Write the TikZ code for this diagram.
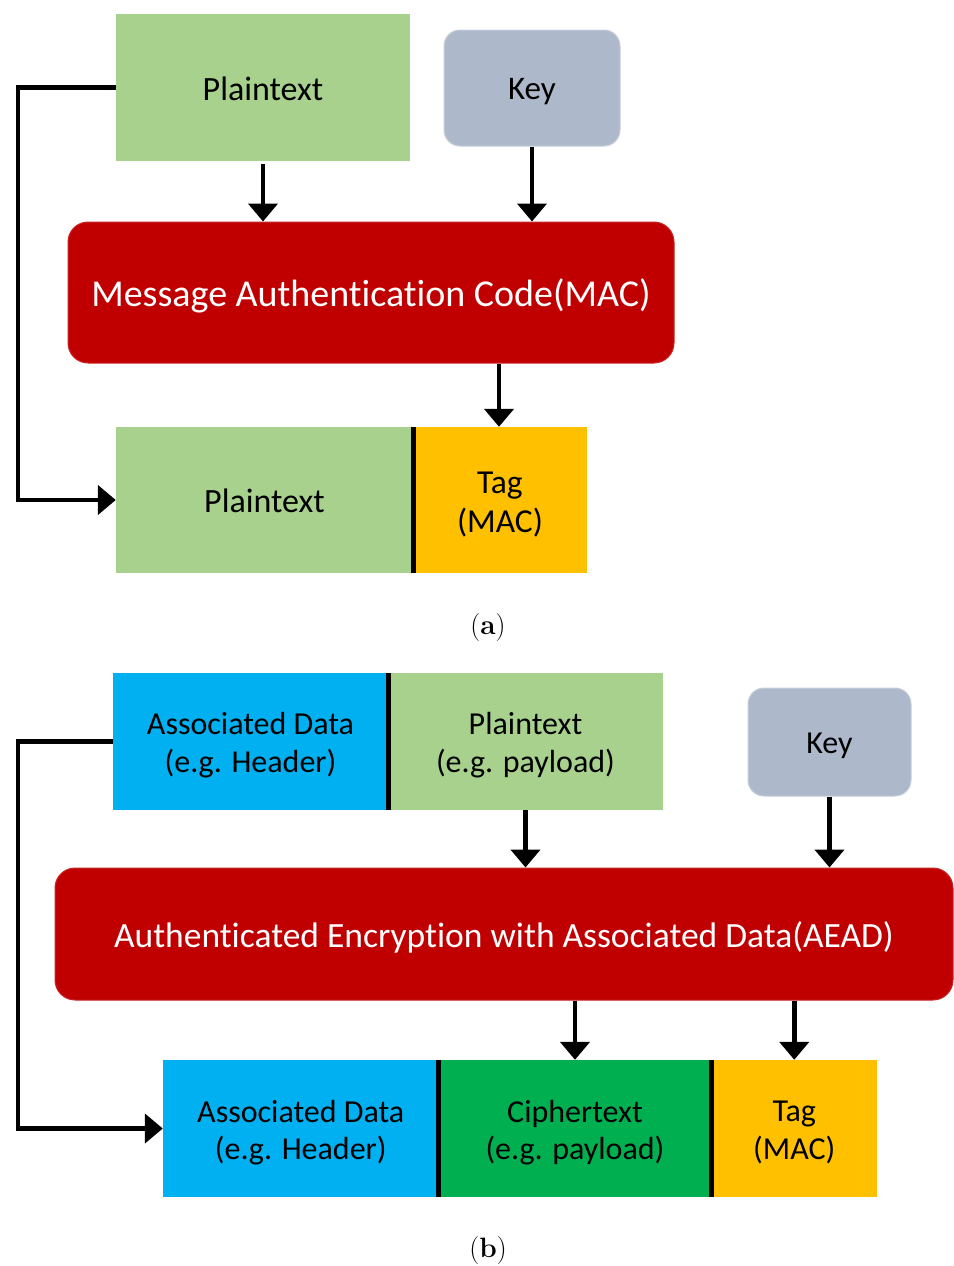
\documentclass[tikz,border=0pt]{standalone}
\usepackage{fontspec}
\setmainfont{Carlito}[Ligatures={NoCommon,NoContextual}]
\newfontfamily\capfont{Latin Modern Roman}
\usetikzlibrary{arrows.meta}

\definecolor{ptgreen}{HTML}{A9D18E}
\definecolor{keygray}{HTML}{ADB9CA}
\definecolor{macred}{HTML}{C00000}
\definecolor{tagyellow}{HTML}{FFC000}
\definecolor{adblue}{HTML}{00B0F0}
\definecolor{ctgreen}{HTML}{00B050}

\tikzset{
  blk/.style={rectangle, inner sep=0pt},
  keybox/.style={blk, fill=keygray, draw=keygray!70!white, line width=1pt, rounded corners=16pt},
  procbox/.style={blk, fill=macred, draw=macred!85!white, line width=1pt, rounded corners=20pt},
  txt/.style={inner sep=0pt, align=center, text=black},
  wtxt/.style={txt, text=white},
  arr/.style={line width=4.6pt, -{Triangle[width=29pt,length=18pt]}},
  loop/.style={line width=4.6pt, -{Triangle[width=29pt,length=18pt]}},
  sep/.style={line width=5pt, black},
  caption/.style={font=\capfont\fontsize{28}{32}\selectfont},
  two/.style={txt, font=\fontsize{32}{37.5}\selectfont},
}

\begin{document}
\begin{tikzpicture}[x=1pt, y=-1pt]
\useasboundingbox (0,0) rectangle (953,1266);

% ---------- (a) MAC ----------
\node[blk, fill=ptgreen, minimum width=294pt, minimum height=147pt] (ptA) at (263,87.5) {};
\node[txt, font=\fontsize{34}{40}\selectfont] (ptAt) at ([yshift=-1.5pt]ptA.center) {Plaintext};
\node[keybox, minimum width=176pt, minimum height=116pt] (keyA) at (532,88) {};
\node[txt, font=\fontsize{33}{38}\selectfont] (keyAt) at ([yshift=-4pt]keyA.center) {Key};
\node[procbox, minimum width=606pt, minimum height=141pt] (mac) at (371,292.5) {};
\node[wtxt, font=\fontsize{38}{44}\selectfont] (mact) at ([yshift=-3pt]mac.center) {Message Authentication Code(MAC)};

\node[blk, fill=ptgreen, minimum width=297pt, minimum height=146pt] (ptA2) at (264.5,500) {};
\node[txt, font=\fontsize{34}{40}\selectfont] (ptA2t) at ([yshift=-1pt]ptA2.center) {Plaintext};
\node[blk, fill=tagyellow, minimum width=174pt, minimum height=146pt] (tagA) at (500,500) {};
\node[txt, font=\fontsize{33.5}{39}\selectfont] (tagAt) at ([yshift=-5pt]tagA.center) {Tag\\(MAC)};
\draw[sep] (ptA2.north east) -- (ptA2.south east);

\draw[arr] ([yshift=-3pt]ptA.south) -- (ptA.south |- mac.north);
\draw[arr] (keyA.south) -- (keyA.south |- mac.north);
\draw[arr] (mac.south -| 499,0) -- (tagA.north -| 499,0);
\coordinate (loopA) at (18,0);
\draw[loop] (ptA.west) -- (ptA.west -| loopA) |- (ptA2.west);

\node[caption] (capA) at (488,628) {(\textbf{a})};

% ---------- (b) AEAD ----------
\node[blk, fill=adblue, minimum width=275pt, minimum height=137pt] (adB) at (250.5,741.5) {};
\node[two] (adBt) at ([yshift=-3.5pt]adB.center) {Associated Data\\(e.g. Header)};
\node[blk, fill=ptgreen, minimum width=275pt, minimum height=137pt] (ptB) at (525.5,741.5) {};
\node[two] (ptBt) at ([yshift=-3.5pt]ptB.center) {Plaintext\\(e.g. payload)};
\draw[sep] (adB.north east) -- (adB.south east);
\node[keybox, minimum width=163pt, minimum height=108pt] (keyB) at (829.5,742) {};
\node[txt, font=\fontsize{32}{37}\selectfont] (keyBt) at ([yshift=-4pt]keyB.center) {Key};
\node[procbox, minimum width=898pt, minimum height=132pt] (aead) at (504,934) {};
\node[wtxt, font=\fontsize{35.5}{42}\selectfont] (aeadt) at ([yshift=-3pt]aead.center) {Authenticated Encryption with Associated Data(AEAD)};

\node[blk, fill=adblue, minimum width=275.5pt, minimum height=137pt] (adB2) at (300.75,1128.5) {};
\node[two] (adB2t) at ([yshift=-4pt]adB2.center) {Associated Data\\(e.g. Header)};
\node[blk, fill=ctgreen, minimum width=273pt, minimum height=137pt] (ctB) at (575,1128.5) {};
\node[two] (ctBt) at ([yshift=-4pt]ctB.center) {Ciphertext\\(e.g. payload)};
\node[blk, fill=tagyellow, minimum width=165.5pt, minimum height=137pt] (tagB) at (794.25,1128.5) {};
\node[two] (tagBt) at ([yshift=-4pt]tagB.center) {Tag\\(MAC)};
\draw[sep] (adB2.north east) -- (adB2.south east);
\draw[sep] (ctB.north east) -- (ctB.south east);

\draw[arr] (ptB.south) -- (ptB.south |- aead.north);
\draw[arr] (keyB.south) -- (keyB.south |- aead.north);
\draw[arr] (aead.south -| ctB.north) -- (ctB.north);
\draw[arr] (aead.south -| tagB.north) -- (tagB.north);
\coordinate (loopB) at (18,0);
\draw[loop] (adB.west) -- (adB.west -| loopB) |- (adB2.west);

\node[caption] (capB) at (488,1250) {(\textbf{b})};
\end{tikzpicture}
\end{document}
